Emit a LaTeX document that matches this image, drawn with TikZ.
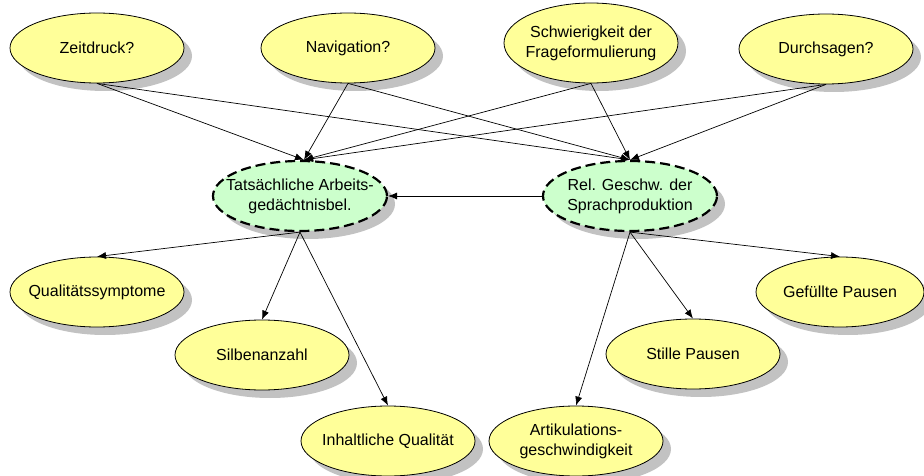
\documentclass[tikz,border=0pt]{standalone}
\usepackage{fontspec}
\setmainfont{Liberation Sans}
\usetikzlibrary{shapes.geometric,shadows,arrows.meta}
\definecolor{nodeyellow}{HTML}{FFFF99}
\definecolor{nodegreen}{HTML}{CCFFCC}
\definecolor{shadowgray}{HTML}{C2C2C2}
\tikzset{
  blob/.style={ellipse, draw=black, line width=0.8pt, minimum width=174pt,
    minimum height=70pt, inner sep=0pt,
    drop shadow={shadow xshift=8pt, shadow yshift=-8pt, fill=shadowgray, opacity=1}},
  caption/.style={align=center, font=\fontsize{16}{20}\selectfont, inner sep=0pt},
  obs/.style={blob, fill=nodeyellow, label={[caption]center:#1}},
  latent/.style={blob, fill=nodegreen, draw=black, line width=2.2pt,
    dash pattern=on 10pt off 5pt, label={[caption]center:#1}},
  link/.style={line width=0.7pt, -{Latex[length=9pt,width=7pt]}}
}
\begin{document}
\begin{tikzpicture}[x=1pt,y=-1pt]
\useasboundingbox (0,0) rectangle (924,476);

% top row: possible influences
\node[obs={Zeitdruck?}] (zeit) at (97,48) {};
\node[obs={Navigation?}] (navi) at (348,48) {};
\node[obs={Schwierigkeit der\\Frageformulierung}, minimum height=80pt] (frage) at (591,43) {};
\node[obs={Durchsagen?}] (durch) at (826,49) {};

% latent variables
\node[latent={Tatsächliche Arbeits-\\gedächtnisbel.}] (arbeit) at (300,196) {};
\node[latent={Rel. Geschw. der\\Sprachproduktion}] (sprach) at (630,196) {};

% observed indicators
\node[obs={Qualitätssymptome}] (qual) at (97,292) {};
\node[obs={Silbenanzahl}] (silben) at (262,355) {};
\node[obs={Inhaltliche Qualität}] (inhalt) at (388,441) {};
\node[obs={Artikulations-\\geschwindigkeit}] (artik) at (576,441) {};
\node[obs={Stille Pausen}] (stille) at (693,354) {};
\node[obs={Gefüllte Pausen}, minimum width=168pt] (gefuellt) at (840,292) {};

% influences on both latent variables
\foreach \src in {zeit,navi,frage,durch}{
  \draw[link] (\src.south) -- ([xshift=4pt]arbeit.north);
  \draw[link] (\src.south) -- (sprach.north);
}

\draw[link] (sprach.west) -- (arbeit.east);

% indicators
\draw[link] (arbeit.south) -- (qual.north);
\draw[link] (arbeit.south) -- (silben.north);
\draw[link] (arbeit.south) -- (inhalt.north);
\draw[link] (sprach.south) -- (artik.north);
\draw[link] (sprach.south) -- (stille.north);
\draw[link] (sprach.south) -- (gefuellt.north);
\end{tikzpicture}
\end{document}
